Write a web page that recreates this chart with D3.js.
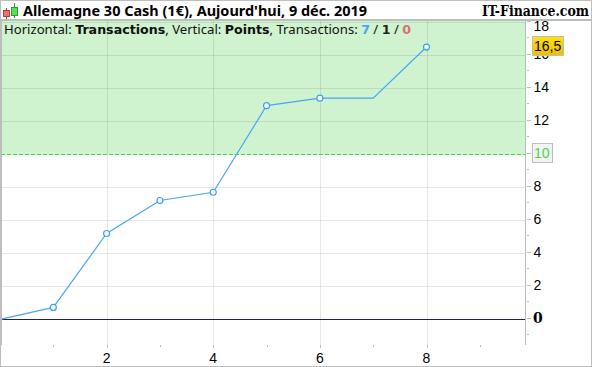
<!DOCTYPE html>
<html>
<head>
<meta charset="utf-8">
<script src="https://cdn.jsdelivr.net/npm/d3@7"></script>
<style>
  html, body { margin: 0; padding: 0; background: #fff; }
  svg { display: block; }
</style>
</head>
<body>
<div id="chart"></div>
<script>
const transactions = [0, 1, 2, 3, 4, 5, 6, 7, 8];
const points = [0, 0.72, 5.2, 7.2, 7.7, 12.95, 13.4, 13.4, 16.5];
const markedTransactions = [1, 2, 3, 4, 5, 6, 8];
const xTicks = [2, 4, 6, 8];
const xMinorTicks = [1, 2, 3, 4, 5, 6, 7, 8, 9];
const yTicks = [0, 2, 4, 6, 8, 10, 12, 14, 16, 18];
const yMinorTicks = [-1, 1, 3, 5, 7, 9, 11, 13, 15, 17];
const targetLevel = 10;
const lastLevel = 16.5;
const titleText = "Allemagne 30 Cash (1€), Aujourd'hui, 9 déc. 2019";
const brandText = "IT-Finance.com";

const width = 592, height = 367;
const plot = {left: 1, right: 525.5, top: 21, bottom: 345};
const uiFont = "'Noto Sans', sans-serif";
const boldFont = "'DejaVu Sans', sans-serif";
const tickFont = "'Liberation Sans', sans-serif";
const serifFont = "'DejaVu Serif', serif";

const svg = d3.select('#chart').append('svg')
    .attr('width', width)
    .attr('height', height)
    .style('font-family', uiFont);

const x = d3.scaleLinear().domain([0, 8]).range([0, 426.5]);
const y = d3.scaleLinear().domain([0, 10]).range([319.3, 154.3]);

const defs = svg.append('defs');
const tagGradient = defs.append('linearGradient')
    .attr('id', 'tagFill').attr('x1', 0).attr('x2', 0).attr('y1', 0).attr('y2', 1);
tagGradient.append('stop').attr('offset', '0%').attr('stop-color', '#ffe20a');
tagGradient.append('stop').attr('offset', '100%').attr('stop-color', '#f0bd06');

// Green zone above the target level
svg.append('rect')
    .attr('x', plot.left).attr('y', plot.top)
    .attr('width', plot.right - plot.left)
    .attr('height', y(targetLevel) - plot.top)
    .attr('fill', '#cff2cf');

// Grid
const grid = svg.append('g').attr('shape-rendering', 'crispEdges');
grid.selectAll('.gx').data(xTicks).enter().append('line')
    .attr('x1', d => Math.round(x(d)) + 0.5).attr('x2', d => Math.round(x(d)) + 0.5)
    .attr('y1', plot.top).attr('y2', plot.bottom)
    .attr('stroke', '#000').attr('stroke-opacity', 0.09);
grid.selectAll('.gy').data(yTicks.filter(d => d > 0)).enter().append('line')
    .attr('x1', plot.left).attr('x2', plot.right)
    .attr('y1', d => Math.floor(y(d)) + 0.5).attr('y2', d => Math.floor(y(d)) + 0.5)
    .attr('stroke', '#000').attr('stroke-opacity', 0.09);

// Target level and zero line
svg.append('line')
    .attr('x1', plot.left).attr('x2', plot.right)
    .attr('y1', Math.floor(y(targetLevel)) + 0.5).attr('y2', Math.floor(y(targetLevel)) + 0.5)
    .attr('stroke', '#45d845').attr('stroke-dasharray', '4,2')
    .attr('shape-rendering', 'crispEdges');
svg.append('line')
    .attr('x1', plot.left).attr('x2', plot.right)
    .attr('y1', Math.floor(y(0)) + 0.5).attr('y2', Math.floor(y(0)) + 0.5)
    .attr('stroke', '#1c1c80')
    .attr('shape-rendering', 'crispEdges');

// Series
const line = d3.line().x((d, i) => x(transactions[i])).y(d => y(d));
svg.append('path')
    .datum(points)
    .attr('fill', 'none')
    .attr('stroke', '#4aa5f5')
    .attr('stroke-width', 1.2)
    .attr('d', line);
svg.selectAll('.marker').data(markedTransactions).enter().append('circle')
    .attr('cx', d => x(d))
    .attr('cy', d => y(points[transactions.indexOf(d)]))
    .attr('r', 3)
    .attr('fill', '#fff')
    .attr('stroke', '#3f9ff5')
    .attr('stroke-width', 1.2);

// Axes
svg.append('line')
    .attr('x1', plot.right).attr('x2', plot.right)
    .attr('y1', plot.top).attr('y2', plot.bottom)
    .attr('stroke', '#bdbdbd').attr('shape-rendering', 'crispEdges');
const axes = svg.append('g').attr('stroke', '#bdbdbd').attr('shape-rendering', 'crispEdges');
axes.selectAll('.yt').data(yTicks).enter().append('line')
    .attr('x1', plot.right + 1).attr('x2', plot.right + 5)
    .attr('y1', d => Math.floor(y(d)) - 0.5).attr('y2', d => Math.floor(y(d)) - 0.5);
axes.selectAll('.ym').data(yMinorTicks).enter().append('line')
    .attr('x1', plot.right + 1).attr('x2', plot.right + 3)
    .attr('y1', d => Math.floor(y(d)) - 0.5).attr('y2', d => Math.floor(y(d)) - 0.5);
axes.selectAll('.xt').data(xMinorTicks).enter().append('line')
    .attr('x1', d => Math.round(x(d)) + 0.5).attr('x2', d => Math.round(x(d)) + 0.5)
    .attr('y1', plot.bottom).attr('y2', d => plot.bottom + (xTicks.includes(d) ? 3 : 2));

svg.selectAll('.xl').data(xTicks).enter().append('text')
    .attr('x', d => x(d)).attr('y', 363)
    .attr('text-anchor', 'middle')
    .attr('font-family', tickFont)
    .attr('font-size', 14).attr('fill', '#000')
    .text(d => d);
svg.selectAll('.yl').data(yTicks.filter(d => d > 0)).enter().append('text')
    .attr('x', 533.5)
    // the top label is pushed down so it stays under the title bar
    .attr('y', d => d === 18 ? 31 : y(d) + 3.5)
    .attr('font-family', tickFont)
    .attr('font-size', 14).attr('fill', '#000')
    .text(d => d);
svg.append('text')
    .attr('x', 533).attr('y', 323)
    .attr('font-family', serifFont).attr('font-weight', 'bold')
    .attr('font-size', 14).attr('fill', '#000')
    .text(0);

// Level tags on the axis
const tags = [
    {v: targetLevel, label: '10', fill: '#f3f3f3', color: '#45d845', w: 20},
    {v: lastLevel, label: '16,5', fill: 'url(#tagFill)', color: '#000', w: 31}
];
const tag = svg.selectAll('.tag').data(tags).enter().append('g');
tag.append('rect')
    .attr('x', 532).attr('y', d => Math.floor(y(d.v)) - 10.5)
    .attr('width', d => d.w).attr('height', 19)
    .attr('fill', d => d.fill).attr('stroke', '#bdbdbd')
    .attr('shape-rendering', 'crispEdges');
tag.append('text')
    .attr('x', 534).attr('y', d => y(d.v) + 3.5)
    .attr('font-family', tickFont)
    .attr('font-size', 14)
    .attr('fill', d => d.color)
    .text(d => d.label);

// Title bar
svg.append('rect')
    .attr('x', 0).attr('y', 0).attr('width', width).attr('height', 20)
    .attr('fill', '#fff');
svg.append('line')
    .attr('x1', 0).attr('x2', width).attr('y1', 19.5).attr('y2', 19.5)
    .attr('stroke', '#bdbdbd').attr('stroke-width', 2).attr('shape-rendering', 'crispEdges');
// Little candle icon
const icon = svg.append('g').attr('shape-rendering', 'crispEdges');
icon.append('line').attr('x1', 6.5).attr('x2', 6.5).attr('y1', 8).attr('y2', 19).attr('stroke', '#b04040');
icon.append('rect').attr('x', 3.5).attr('y', 10.5).attr('width', 6).attr('height', 6).attr('fill', '#f07070').attr('stroke', '#b04040');
icon.append('line').attr('x1', 14.5).attr('x2', 14.5).attr('y1', 3).attr('y2', 18).attr('stroke', '#2f9a2f');
icon.append('rect').attr('x', 11.5).attr('y', 7.5).attr('width', 6).attr('height', 8).attr('fill', '#55e055').attr('stroke', '#2f9a2f');

svg.append('text')
    .attr('x', 23).attr('y', 16)
    .attr('font-weight', 'bold').attr('font-size', 13.5)
    .attr('textLength', 344).attr('lengthAdjust', 'spacingAndGlyphs')
    .attr('fill', '#000')
    .text(titleText);
svg.append('text')
    .attr('x', 482).attr('y', 16)
    .attr('font-family', serifFont).attr('font-weight', 'bold').attr('font-size', 13.9)
    .style('font-stretch', 'condensed')
    .attr('fill', '#000')
    .text(brandText);

// Legend line inside the plot
const legend = svg.append('text')
    .attr('x', 4).attr('y', 34)
    .attr('font-size', 13)
    .attr('textLength', 407).attr('lengthAdjust', 'spacingAndGlyphs')
    .attr('fill', '#111');
const legendParts = [
    ['Horizontal: ', null, null],
    ['Transactions', 'bold', null],
    [', Vertical: ', null, null],
    ['Points', 'bold', null],
    [', Transactions: ', null, null],
    ['7', 'bold', '#4aa5f5'],
    [' / ', null, null],
    ['1', 'bold', '#222'],
    [' / ', null, null],
    ['0', 'bold', '#d87070']
];
legendParts.forEach(p => {
    const span = legend.append('tspan').text(p[0]);
    if (p[1]) span.attr('font-weight', p[1]).attr('font-family', boldFont).attr('font-size', 12.5);
    if (p[2]) span.attr('fill', p[2]);
});

// Outer frame
svg.append('rect')
    .attr('x', 0.5).attr('y', 0.5)
    .attr('width', width - 1).attr('height', height - 1.5)
    .attr('fill', 'none').attr('stroke', '#bdbdbd')
    .attr('shape-rendering', 'crispEdges');
svg.append('line')
    .attr('x1', 1.5).attr('x2', 1.5).attr('y1', 20).attr('y2', plot.bottom)
    .attr('stroke', '#bdbdbd').attr('shape-rendering', 'crispEdges');
</script>
</body>
</html>
